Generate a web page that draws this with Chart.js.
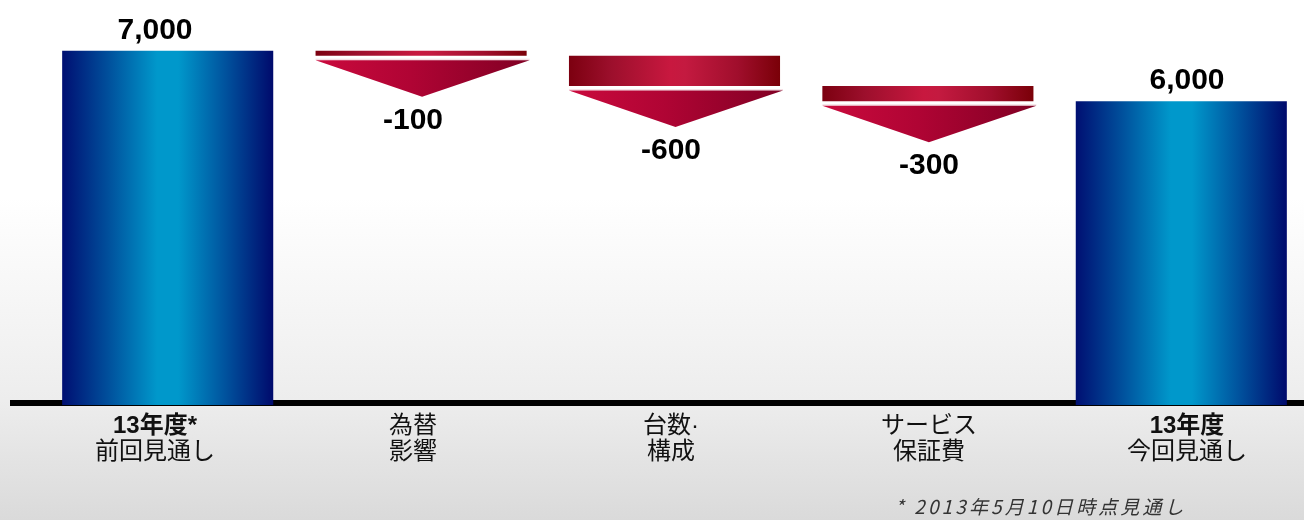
<!DOCTYPE html>
<html><head><meta charset="utf-8">
<script src="https://cdn.jsdelivr.net/npm/chart.js@4.4.1/dist/chart.umd.min.js"></script>
<style>
html,body{margin:0;padding:0;width:1304px;height:520px;overflow:hidden;}
body{background:linear-gradient(to bottom,#ffffff 0%,#ffffff 38%,#ededed 77%,#dadada 100%);position:relative;}
#wrap{position:absolute;left:0;top:0;width:1320px;height:520px;}
#note{position:absolute;left:895px;top:495px;font-size:19px;font-style:italic;letter-spacing:3.1px;color:#333;font-family:'Noto Sans CJK JP',sans-serif;white-space:nowrap;line-height:22px;}
</style></head><body>
<div id="wrap"><canvas id="c"></canvas></div>
<div id="note">* 2013年5月10日時点見通し</div>
<script>
const categories = [['13年度*','前回見通し'],['為替','影響'],['台数·','構成'],['サービス','保証費'],['13年度','今回見通し']];
const values = [7000, -100, -600, -300, 6000];
const isTotal = [true, false, false, false, true];
const yRange = [0, 8000];

let run = 0;
const ranges = values.map((v, i) => {
  if (isTotal[i]) { run = v; return [0, v]; }
  const s = run; run += v; return [run, s];
});

const FONT = "'Liberation Sans', 'Noto Sans CJK JP', Arial, sans-serif";
const BAR_PCT = 0.833;
const LAB_MIN = -0.4419, LAB_MAX = 4.469;
const BLUE = [[0,'#000f72'],[0.22,'#00509c'],[0.45,'#0098cb'],[0.55,'#0098cb'],[0.78,'#00509c'],[1,'#000a6c']];
const RED = [[0,'#7c0010'],[0.2,'#9c0f2c'],[0.48,'#c8183f'],[0.55,'#c41a40'],[0.8,'#a00e2c'],[1,'#7a0008']];
const TRI = [[0,'#ca0a3d'],[0.45,'#b00434'],[1,'#820024']];

function hGrad(ctx, x0, x1, stops) {
  const g = ctx.createLinearGradient(x0, 0, x1, 0);
  stops.forEach(([o, c]) => g.addColorStop(o, c));
  return g;
}
function barEdges(chart, i) {
  const xs = chart.scales.x;
  const w = (chart.chartArea.right - chart.chartArea.left) / categories.length * BAR_PCT;
  const c = xs.getPixelForValue(i);
  return [c - w / 2, c + w / 2];
}

const deco = {
  id: 'deco',
  beforeDatasetsDraw(chart) {
    const ctx = chart.ctx;
    const y0 = chart.scales.y.getPixelForValue(0);
    ctx.save();
    ctx.fillStyle = '#000';
    ctx.fillRect(10, y0 - 5, chart.width, 6);
    ctx.restore();
  },
  afterDatasetsDraw(chart) {
    const ctx = chart.ctx;
    const meta = chart.getDatasetMeta(0);
    const lab = chart.scales.lab1;
    meta.data.forEach((bar, i) => {
      const p = bar.getProps(['x', 'y', 'base', 'width'], true);
      const l = p.x - p.width / 2, r = p.x + p.width / 2;
      const top = Math.min(p.y, p.base), bottom = Math.max(p.y, p.base);
      const txt = values[i].toLocaleString('en-US');
      const tx = lab.getPixelForValue(i);
      ctx.save();
      ctx.font = 'bold 30px ' + FONT;
      ctx.textAlign = 'center';
      ctx.textBaseline = 'alphabetic';
      if (isTotal[i]) {
        ctx.fillStyle = '#000';
        ctx.fillText(txt, tx, top - 12);
      } else {
        const t0 = bottom + 3;
        ctx.fillStyle = '#f4dfe4';
        ctx.fillRect(l, t0, p.width + 3, 1.5);
        ctx.beginPath();
        ctx.moveTo(l, t0 + 1.5);
        ctx.lineTo(r + 3, t0 + 1.5);
        ctx.lineTo(p.x + 1, t0 + 38);
        ctx.closePath();
        ctx.fillStyle = hGrad(ctx, l, r, TRI);
        ctx.fill();
        ctx.fillStyle = '#000';
        ctx.fillText(txt, tx, t0 + 38 + 32);
      }
      ctx.restore();
    });
  }
};

function labelAxis(line, weight, height, padding) {
  return {
    type: 'linear', position: 'bottom', weight: weight, offset: false, bounds: 'data',
    min: LAB_MIN, max: LAB_MAX,
    grid: { display: false, drawTicks: false, offset: false }, border: { display: false },
    afterDataLimits: a => { a.min = LAB_MIN; a.max = LAB_MAX; },
    afterBuildTicks: a => { a.ticks = categories.map((_, i) => ({ value: i })); a.min = LAB_MIN; a.max = LAB_MAX; },
    afterFit: a => { a.height = height; a.paddingLeft = 0; a.paddingRight = 0; },
    ticks: {
      padding: padding, autoSkip: false, maxRotation: 0, minRotation: 0, color: '#111',
      font: (c) => ({ family: FONT, size: 24, weight: (line === 0 && isTotal[c.index]) ? 'bold' : 'normal' }),
      callback: (v) => categories[v] ? categories[v][line] : ''
    }
  };
}

new Chart(document.getElementById('c'), {
  type: 'bar',
  data: {
    labels: categories,
    datasets: [{
      data: ranges,
      xAxisID: 'x', yAxisID: 'y',
      barPercentage: BAR_PCT, categoryPercentage: 1,
      borderWidth: 0, borderSkipped: false,
      backgroundColor: (ctx) => {
        const chart = ctx.chart;
        if (!chart.chartArea) return isTotal[ctx.dataIndex] ? '#0098cb' : '#c8183f';
        const [l, r] = barEdges(chart, ctx.dataIndex);
        return hGrad(chart.ctx, l, r, isTotal[ctx.dataIndex] ? BLUE : RED);
      }
    }]
  },
  options: {
    responsive: true, maintainAspectRatio: false, animation: false,
    layout: { padding: { left: 41, right: 12, top: 0, bottom: 0 } },
    plugins: { legend: { display: false }, tooltip: { enabled: false } },
    scales: {
      x: { type: 'category', display: false, offset: true },
      y: { display: false, min: yRange[0], max: yRange[1] },
      lab1: labelAxis(0, 0, 33, 7),
      lab2: labelAxis(1, 1, 82, 0)
    }
  },
  plugins: [deco]
});
</script>
</body></html>
